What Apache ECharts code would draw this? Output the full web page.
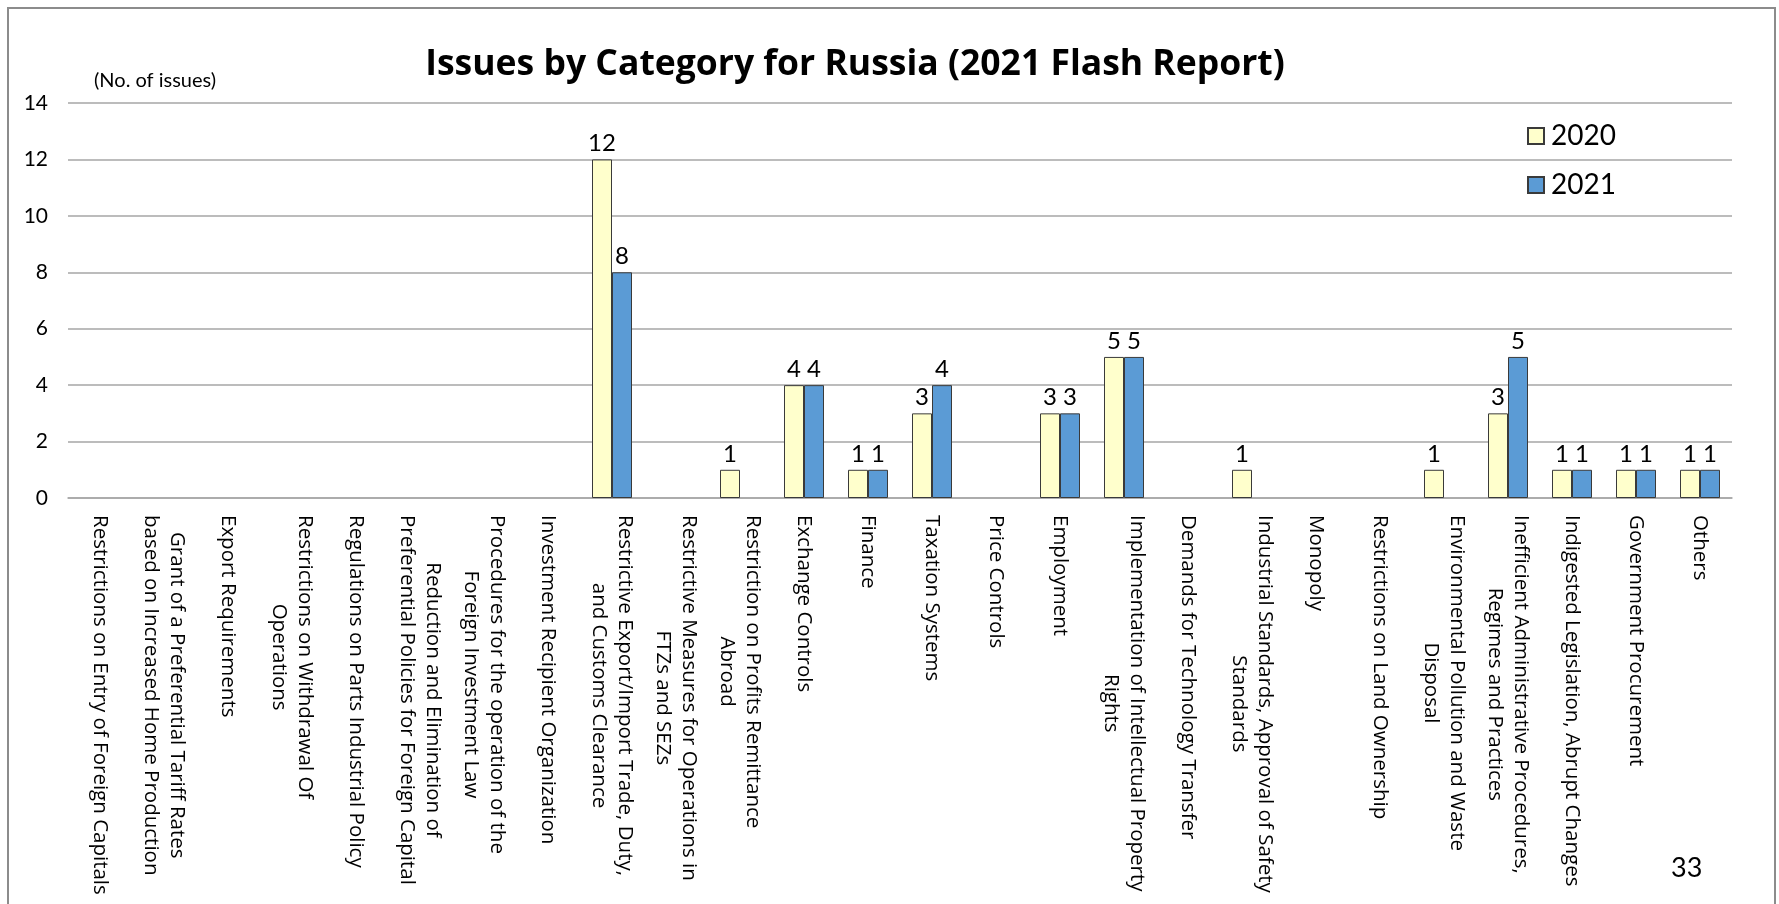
<!DOCTYPE html>
<html>
<head>
<meta charset="utf-8">
<title>Issues by Category for Russia (2021 Flash Report)</title>
<script src="https://cdn.jsdelivr.net/npm/echarts@6/dist/echarts.min.js"></script>
<style>
  html, body { margin: 0; padding: 0; background: #ffffff; }
  #chart { width: 1779px; height: 904px; }
</style>
</head>
<body>
<div id="chart"></div>
<script>
// Issue categories (line breaks follow the wrapped axis labels)
const categories = [
  'Restrictions on Entry of Foreign Capitals',
  'Grant of a Preferential Tariff Rates\nbased on Increased Home Production',
  'Export Requirements',
  'Restrictions on Withdrawal Of\nOperations',
  'Regulations on Parts Industrial Policy',
  'Reduction and Elimination of\nPreferential Policies for Foreign Capital',
  'Procedures for the operation of the\nForeign Investment Law',
  'Investment Recipient Organization',
  'Restrictive Export/Import Trade, Duty,\nand Customs Clearance',
  'Restrictive Measures for Operations in\nFTZs and SEZs',
  'Restriction on Profits Remittance\nAbroad',
  'Exchange Controls',
  'Finance',
  'Taxation Systems',
  'Price Controls',
  'Employment',
  'Implementation of Intellectual Property\nRights',
  'Demands for Technology Transfer',
  'Industrial Standards, Approval of Safety\nStandards',
  'Monopoly',
  'Restrictions on Land Ownership',
  'Environmental Pollution and Waste\nDisposal',
  'Inefficient Administrative Procedures,\nRegimes and Practices',
  'Indigested Legislation, Abrupt Changes',
  'Government Procurement',
  'Others'
];

// Number of issues per category
const issues2020 = [0, 0, 0, 0, 0, 0, 0, 0, 12, 0, 1, 4, 1, 3, 0, 3, 5, 0, 1, 0, 0, 1, 3, 1, 1, 1];
const issues2021 = [0, 0, 0, 0, 0, 0, 0, 0, 8, 0, 0, 4, 1, 4, 0, 3, 5, 0, 0, 0, 0, 0, 5, 1, 1, 1];

const seriesNames = ['2020', '2021'];
const yTicks = { min: 0, max: 14, interval: 2 };

const titleText = 'Issues by Category for Russia (2021 Flash Report)';
const unitText = '(No. of issues)';
const pageNumber = '33';

// Categories without issues get no bar and no label
const toBars = arr => arr.map(v => (v === 0 ? null : v));

const chart = echarts.init(document.getElementById('chart'), null, { renderer: 'canvas' });

const labelStyle = {
  show: true,
  position: 'top',
  distance: 4,
  color: '#000000',
  fontFamily: 'Lato',
  fontSize: 24
};

chart.setOption({
  backgroundColor: '#ffffff',
  animation: false,
  title: {
    text: titleText,
    left: 850,
    textAlign: 'center',
    top: 42,
    textStyle: {
      fontFamily: 'Open Sans',
      fontWeight: 'bold',
      fontSize: 35.5,
      color: '#000000'
    }
  },
  legend: {
    orient: 'vertical',
    left: 1522,
    top: 117,
    itemWidth: 16,
    itemHeight: 16,
    itemGap: 21,
    icon: 'rect',
    data: seriesNames,
    textStyle: {
      fontFamily: 'Lato',
      fontSize: 28,
      color: '#000000',
      padding: [0, 0, 0, 2]
    }
  },
  grid: {
    left: 68,
    right: 1779 - 1732,
    top: 103,
    bottom: 904 - 498,
    containLabel: false
  },
  xAxis: {
    type: 'category',
    data: categories,
    axisLine: { show: true, lineStyle: { color: '#a6a6a6', width: 1.5 } },
    axisTick: { show: false },
    axisLabel: {
      interval: 0,
      rotate: -90,
      margin: 17,
      color: '#000000',
      fontFamily: 'Open Sans',
      fontSize: 20.5,
      formatter: v => v.split('\n').map(line => '{c|' + line + '}').join('\n'),
      rich: {
        c: {
          align: 'center',
          fontFamily: 'Open Sans',
          fontSize: 20.5,
          lineHeight: 26,
          color: '#000000'
        }
      }
    }
  },
  yAxis: {
    type: 'value',
    min: yTicks.min,
    max: yTicks.max,
    interval: yTicks.interval,
    axisLine: { show: false },
    axisTick: { show: false },
    axisLabel: {
      margin: 20,
      color: '#000000',
      fontFamily: 'Lato',
      fontSize: 21
    },
    splitLine: { lineStyle: { color: '#a6a6a6', width: 1.5 } }
  },
  series: [
    {
      name: seriesNames[0],
      type: 'bar',
      data: toBars(issues2020),
      barWidth: 20,
      barGap: '0%',
      itemStyle: { color: '#ffffcc', borderColor: '#3a3a3a', borderWidth: 1 },
      label: labelStyle
    },
    {
      name: seriesNames[1],
      type: 'bar',
      data: toBars(issues2021),
      barWidth: 20,
      barGap: '0%',
      itemStyle: { color: '#5b9bd5', borderColor: '#3a3a3a', borderWidth: 1 },
      label: labelStyle
    }
  ],
  graphic: [
    {
      type: 'rect',
      silent: true,
      shape: { x: 8, y: 8, width: 1767, height: 920 },
      style: { fill: null, stroke: '#8c8c8c', lineWidth: 2 }
    },
    {
      type: 'text',
      silent: true,
      left: 94,
      top: 71,
      style: {
        text: unitText,
        fontFamily: 'Lato',
        fontSize: 20,
        fill: '#000000'
      }
    },
    {
      type: 'text',
      silent: true,
      left: 1671,
      top: 855,
      style: {
        text: pageNumber,
        fontFamily: 'Lato',
        fontSize: 27,
        fill: '#000000'
      }
    }
  ]
});
</script>
</body>
</html>
